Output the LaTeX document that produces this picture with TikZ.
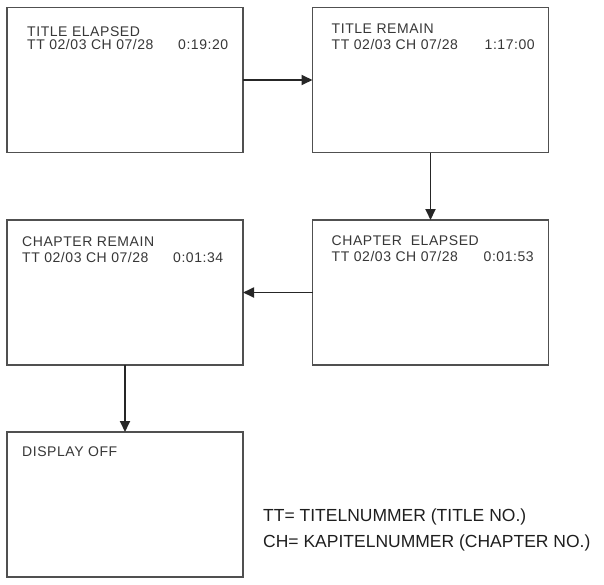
\documentclass[tikz,border=0pt]{standalone}
\usepackage{fontspec}
\setmainfont{Liberation Sans}
\usetikzlibrary{positioning, arrows.meta}
\definecolor{osdline}{RGB}{80,80,80}
\definecolor{osdtext}{RGB}{55,55,55}
\definecolor{legtext}{RGB}{30,30,30}

\begin{document}
\begin{tikzpicture}[
    x=1pt, y=-1pt,
    >={Triangle[length=11pt, width=10pt]},
    % --- node styles ---
    screen/.style ={draw=osdline, line width=1.4pt, fill=white,
                    minimum width=236pt, minimum height=145pt,
                    inner sep=0pt, outer sep=0pt},
    osd/.style    ={anchor=north west, inner sep=0pt, align=left,
                    text=osdtext,
                    font=\fontsize{14}{16}\selectfont\addfontfeature{LetterSpace=4}},
    legend/.style ={anchor=north west, inner sep=0pt, align=left,
                    text=legtext, font=\fontsize{17.5}{26}\selectfont},
    % --- wire styles ---
    flow/.style   ={->, line width=1.8pt, black!85},
]
\useasboundingbox (0,0) rectangle (604,584);

% =============== screens ===============
\node[screen] (telapsed) at (125,80)    {};
\node[screen] (tremain)  at (430.5,80)  {};
\node[screen] (cremain)  at (125,292.5) {};
\node[screen] (celapsed) at (430.5,292.5) {};
\node[screen] (dispoff)  at (125,504.5) {};

% =============== screen texts ===============
\node[osd, below right=19pt and 20pt of telapsed.north west] (telapsedtxt)
    {TITLE ELAPSED\\[-2.5pt]\makebox[151pt][l]{TT 02/03 CH 07/28}0:19:20};
\node[osd, below right=16pt and 19pt of tremain.north west] (tremaintxt)
    {TITLE REMAIN\\\makebox[153pt][l]{TT 02/03 CH 07/28}1:17:00};
\node[osd, below right=17pt and 15pt of cremain.north west] (cremaintxt)
    {CHAPTER REMAIN\\\makebox[151pt][l]{TT 02/03 CH 07/28}0:01:34};
\node[osd, below right=16pt and 19pt of celapsed.north west] (celapsedtxt)
    {CHAPTER\ \ ELAPSED\\\makebox[152pt][l]{TT 02/03 CH 07/28}0:01:53};
\node[osd, below right=15pt and 15pt of dispoff.north west] (dispofftxt)
    {DISPLAY OFF};

% =============== legend ===============
\node[legend] (abbrev) at (263,509)
    {TT= TITELNUMMER (TITLE NO.)\\CH= KAPITELNUMMER (CHAPTER NO.)};

% =============== wires ===============
\draw[flow] (telapsed.east) -- (tremain.west);
\draw[flow] (tremain.south) -- (celapsed.north);
\draw[flow] (celapsed.west) -- (cremain.east);
\draw[flow] (cremain.south) -- (dispoff.north);

\end{tikzpicture}
\end{document}
